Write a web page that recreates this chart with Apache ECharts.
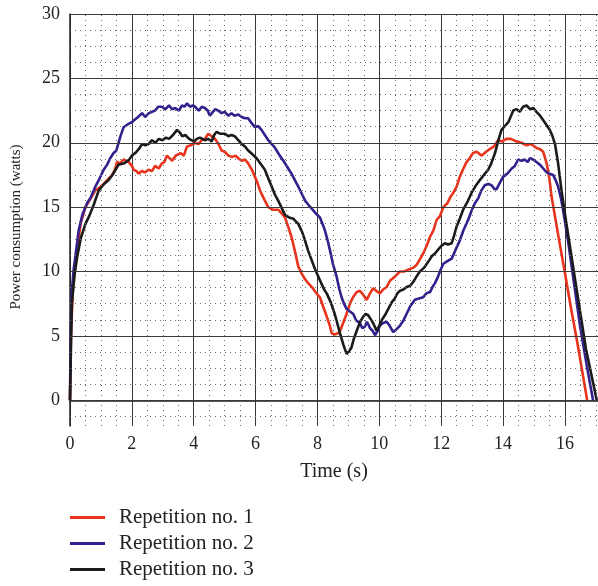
<!DOCTYPE html>
<html>
<head>
<meta charset="utf-8">
<script src="https://cdn.jsdelivr.net/npm/echarts@6/dist/echarts.min.js"></script>
<style>
  html, body { margin: 0; padding: 0; background: #fff; }
  #chart { width: 598px; height: 586px; }
</style>
</head>
<body>
<div id="chart"></div>
<script>
  // time (s) / power (watts) pairs
  const rep1 = [[0,0],[0.03,5],[0.1,9],[0.23,11.7],[0.35,13.8],[0.5,15.0],[0.65,15.6],[0.82,16.3],[0.95,16.5],[1.09,16.8],[1.2,17.1],[1.36,17.5],[1.45,17.9],[1.52,18.5],[1.62,18.4],[1.73,18.7],[1.82,18.6],[1.9,18.5],[2.0,18.2],[2.06,17.9],[2.15,17.8],[2.22,17.6],[2.32,17.8],[2.42,17.7],[2.54,17.9],[2.65,17.8],[2.75,18.2],[2.87,18.0],[2.97,18.4],[3.05,18.5],[3.13,19.0],[3.22,18.8],[3.3,18.6],[3.42,19.0],[3.57,19.2],[3.68,19.0],[3.78,19.7],[3.9,19.8],[4.05,20.0],[4.15,19.9],[4.26,20.2],[4.36,20.3],[4.47,20.7],[4.58,20.5],[4.69,20.3],[4.8,19.9],[4.9,19.4],[5.0,19.3],[5.12,19.0],[5.25,18.9],[5.35,19.0],[5.44,18.8],[5.55,18.6],[5.66,18.7],[5.76,18.4],[5.88,17.9],[5.98,17.35],[6.06,16.9],[6.14,16.3],[6.28,15.6],[6.41,15.0],[6.55,14.8],[6.73,14.8],[6.85,14.5],[6.95,14.2],[7.05,13.5],[7.16,12.7],[7.27,11.6],[7.38,10.4],[7.5,9.8],[7.6,9.4],[7.7,9.1],[7.85,8.7],[7.97,8.3],[8.08,8.0],[8.18,7.3],[8.3,6.5],[8.4,5.8],[8.46,5.2],[8.55,5.1],[8.67,5.2],[8.75,5.5],[8.83,6.0],[8.94,6.7],[9.05,7.5],[9.15,8.0],[9.27,8.4],[9.37,8.5],[9.48,8.2],[9.59,7.8],[9.7,8.3],[9.8,8.7],[9.9,8.5],[10.02,8.3],[10.12,8.6],[10.24,8.8],[10.35,9.3],[10.5,9.6],[10.67,10.0],[10.8,10.0],[10.99,10.2],[11.1,10.3],[11.2,10.5],[11.3,10.9],[11.42,11.4],[11.53,12.0],[11.64,12.7],[11.75,13.2],[11.85,14.0],[11.96,14.3],[12.07,15.0],[12.2,15.3],[12.3,15.8],[12.39,16.1],[12.5,16.6],[12.6,17.35],[12.7,17.9],[12.82,18.5],[12.92,18.8],[13.03,19.2],[13.15,19.3],[13.31,19.0],[13.45,19.3],[13.57,19.5],[13.7,19.7],[13.84,20.2],[13.97,20.1],[14.11,20.3],[14.25,20.3],[14.44,20.1],[14.6,20.0],[14.76,19.8],[14.9,19.9],[15.08,19.6],[15.2,19.5],[15.3,19.3],[15.41,18.4],[15.5,17.2],[15.57,15.8],[15.8,12.6],[16.0,9.9],[16.2,7.1],[16.4,4.5],[16.6,1.7],[16.72,0]];

  const rep2 = [[0,0],[0.02,5],[0.06,8.5],[0.12,10.2],[0.17,11.1],[0.28,13.2],[0.4,14.4],[0.55,15.3],[0.68,15.8],[0.82,16.6],[0.95,17.2],[1.09,17.9],[1.2,18.3],[1.3,18.8],[1.41,19.2],[1.5,19.4],[1.63,20.5],[1.73,21.2],[1.85,21.4],[2.0,21.6],[2.1,21.8],[2.2,22.0],[2.33,22.3],[2.43,22.0],[2.55,22.3],[2.65,22.4],[2.75,22.5],[2.85,22.8],[2.97,22.8],[3.08,22.6],[3.2,22.9],[3.3,22.6],[3.4,22.7],[3.52,22.5],[3.62,22.9],[3.7,22.8],[3.78,23.05],[3.88,22.8],[3.97,22.9],[4.04,22.8],[4.16,22.5],[4.26,22.8],[4.36,22.7],[4.45,22.5],[4.52,22.1],[4.62,22.4],[4.7,22.6],[4.79,22.5],[4.9,22.3],[5.0,22.4],[5.12,22.1],[5.22,22.3],[5.32,22.1],[5.44,22.2],[5.55,22.0],[5.66,21.9],[5.76,21.9],[5.88,21.5],[5.98,21.2],[6.08,21.3],[6.19,21.0],[6.3,20.6],[6.41,20.2],[6.52,19.9],[6.6,19.7],[6.68,19.4],[6.78,19.0],[6.9,18.6],[7.03,18.1],[7.16,17.6],[7.27,17.1],[7.38,16.6],[7.5,16.0],[7.6,15.5],[7.7,15.2],[7.81,14.9],[7.95,14.5],[8.08,14.2],[8.18,13.6],[8.24,13.2],[8.32,12.5],[8.4,11.7],[8.5,10.6],[8.62,9.6],[8.7,8.7],[8.78,8.0],[8.86,7.5],[8.94,7.1],[9.05,6.9],[9.16,6.7],[9.25,6.2],[9.37,6.0],[9.45,5.6],[9.53,5.7],[9.6,6.1],[9.7,5.6],[9.78,5.4],[9.86,5.05],[9.95,5.4],[10.02,5.8],[10.12,6.0],[10.24,6.1],[10.33,5.8],[10.45,5.3],[10.55,5.5],[10.67,5.8],[10.78,6.2],[10.88,6.7],[11.0,7.3],[11.15,7.8],[11.28,7.9],[11.42,8.0],[11.52,8.3],[11.64,8.4],[11.72,8.8],[11.8,9.1],[11.88,9.5],[11.96,10.0],[12.07,10.6],[12.2,10.8],[12.34,11.0],[12.45,11.6],[12.6,12.4],[12.72,13.2],[12.87,14.0],[12.98,14.7],[13.09,15.3],[13.2,15.7],[13.3,16.3],[13.41,16.7],[13.52,16.8],[13.63,16.7],[13.72,16.4],[13.79,16.4],[13.9,16.9],[14.0,17.35],[14.14,17.6],[14.28,18.0],[14.38,18.2],[14.49,18.7],[14.6,18.6],[14.7,18.7],[14.8,18.5],[14.87,18.8],[14.97,18.7],[15.08,18.5],[15.19,18.3],[15.3,18.0],[15.41,17.7],[15.5,17.6],[15.62,17.5],[15.7,17.1],[15.78,16.6],[15.88,15.6],[15.94,14.8],[16.1,12.4],[16.3,9.0],[16.5,5.6],[16.7,2.8],[16.91,0]];

  const rep3 = [[0,0],[0.03,4],[0.06,7.5],[0.15,9.8],[0.23,11.1],[0.35,12.6],[0.5,13.7],[0.62,14.3],[0.77,15.2],[0.93,16.3],[1.1,16.8],[1.25,17.1],[1.4,17.6],[1.57,18.3],[1.75,18.4],[1.9,18.65],[2.0,19.0],[2.11,19.2],[2.22,19.5],[2.33,19.9],[2.44,19.8],[2.54,19.9],[2.65,20.2],[2.76,20.0],[2.87,20.3],[3.0,20.2],[3.1,20.4],[3.2,20.3],[3.33,20.6],[3.46,21.0],[3.55,20.8],[3.63,20.5],[3.73,20.6],[3.85,20.3],[4.0,20.1],[4.1,20.3],[4.2,20.4],[4.36,20.2],[4.47,20.3],[4.58,20.1],[4.66,20.6],[4.74,20.85],[4.85,20.7],[5.01,20.7],[5.12,20.5],[5.22,20.6],[5.33,20.5],[5.44,20.2],[5.55,19.9],[5.66,19.7],[5.76,19.4],[5.9,19.1],[6.03,18.8],[6.15,18.4],[6.3,17.9],[6.4,17.3],[6.52,16.6],[6.62,16.0],[6.73,15.5],[6.85,14.9],[6.95,14.4],[7.08,14.2],[7.22,14.1],[7.3,13.9],[7.38,13.7],[7.5,13.1],[7.6,12.4],[7.7,11.6],[7.81,10.9],[7.92,10.2],[8.03,9.6],[8.14,9.0],[8.24,8.5],[8.3,8.3],[8.43,7.6],[8.56,6.7],[8.65,5.9],[8.73,5.2],[8.84,4.3],[8.94,3.6],[9.02,3.8],[9.1,4.1],[9.18,4.8],[9.27,5.4],[9.38,6.1],[9.48,6.5],[9.56,6.7],[9.64,6.6],[9.72,6.3],[9.8,6.0],[9.91,5.4],[10.0,5.8],[10.07,6.2],[10.18,6.6],[10.29,7.1],[10.4,7.6],[10.5,7.9],[10.58,8.3],[10.67,8.5],[10.78,8.6],[10.88,8.8],[11.0,8.9],[11.1,9.2],[11.2,9.6],[11.31,10.0],[11.45,10.3],[11.58,10.75],[11.7,11.2],[11.8,11.4],[11.9,11.7],[12.01,12.0],[12.12,12.2],[12.22,12.1],[12.34,12.2],[12.42,12.8],[12.5,13.5],[12.6,14.1],[12.71,14.8],[12.85,15.4],[12.98,16.1],[13.1,16.6],[13.25,17.1],[13.38,17.5],[13.52,17.9],[13.62,18.4],[13.74,19.2],[13.85,20.2],[13.95,21.0],[14.06,21.3],[14.17,21.6],[14.26,22.1],[14.33,22.5],[14.44,22.6],[14.54,22.4],[14.65,22.8],[14.76,22.9],[14.88,22.6],[14.98,22.7],[15.08,22.4],[15.2,22.1],[15.3,21.75],[15.4,21.4],[15.51,21.0],[15.6,20.5],[15.68,19.9],[15.78,18.4],[15.89,16.3],[16.05,13.7],[16.38,8.6],[16.68,4.0],[17.03,0]];

  const seriesNames = ['Repetition no. 1', 'Repetition no. 2', 'Repetition no. 3'];
  const seriesColors = ['#e8341c', '#34208c', '#1b1b1b'];
  const yTicks = [0, 5, 10, 15, 20, 25, 30];

  // grid line positions (major every 5 W, minor dots every 1.25 W / 0.5 s)
  const yMinor = [];
  for (let v = -1.25; v < 30; v += 1.25) {
    if (Math.abs(v / 5 - Math.round(v / 5)) > 1e-6) yMinor.push(v);
  }
  const xMinor = [];
  for (let t = 0.5; t <= 17; t += 0.5) {
    if (t % 2 !== 0) xMinor.push(t);
  }

  const font = '"Liberation Serif", "DejaVu Serif", serif';
  const dotted = { color: '#6a6a6a', width: 1, type: [1, 4] };
  const solid = { color: '#3a3a3a', width: 1, type: 'solid' };

  const chart = echarts.init(document.getElementById('chart'));
  chart.setOption({
    animation: false,
    grid: { left: 70, right: 0, top: 14, bottom: 160 },
    legend: {
      orient: 'vertical',
      left: 70,
      top: 507,
      height: 79,
      padding: 0,
      icon: 'rect',
      itemWidth: 35,
      itemHeight: 3,
      itemGap: 5,
      data: seriesNames,
      textStyle: {
        fontFamily: font, fontSize: 21, lineHeight: 21, color: '#222',
        padding: [0, 0, 0, 9]
      }
    },
    xAxis: {
      type: 'value',
      min: 0,
      max: 17.07,
      interval: 2,
      name: 'Time (s)',
      nameLocation: 'middle',
      nameGap: 36,
      nameTextStyle: { fontFamily: font, fontSize: 20, color: '#222' },
      axisLine: { lineStyle: { color: '#222', width: 1.5 } },
      axisTick: { show: false },
      axisLabel: {
        fontFamily: font, fontSize: 18, color: '#222', margin: 9,
        showMaxLabel: false
      },
      splitLine: { show: true, showMaxLine: false, lineStyle: solid }
    },
    yAxis: {
      type: 'value',
      min: -2,
      max: 30,
      name: 'Power consumption (watts)',
      nameLocation: 'middle',
      nameGap: 46,
      nameTextStyle: {
        fontFamily: font, fontSize: 15, color: '#222',
        padding: [0, 14, 0, 0]
      },
      axisLine: { show: true, lineStyle: { color: '#222', width: 1.5 } },
      axisTick: { show: false },
      axisLabel: {
        customValues: yTicks,
        fontFamily: font, fontSize: 18, color: '#222', margin: 10
      },
      splitLine: { show: false }
    },
    series: [
      {
        name: 'grid',
        type: 'line',
        data: [],
        z: 1,
        silent: true,
        markLine: {
          silent: true,
          symbol: ['none', 'none'],
          label: { show: false },
          emphasis: { disabled: true },
          data: [
            ...yMinor.map(v => ({ yAxis: v, lineStyle: dotted })),
            ...xMinor.map(t => ({ xAxis: t, lineStyle: dotted })),
            ...yTicks.map(v => ({ yAxis: v, lineStyle: solid }))
          ]
        }
      },
      ...[rep1, rep2, rep3].map((d, i) => ({
        name: seriesNames[i],
        type: 'line',
        data: d,
        z: 3,
        symbol: 'none',
        color: seriesColors[i],
        lineStyle: { width: 2.6, color: seriesColors[i] }
      }))
    ]
  });
</script>
</body>
</html>
